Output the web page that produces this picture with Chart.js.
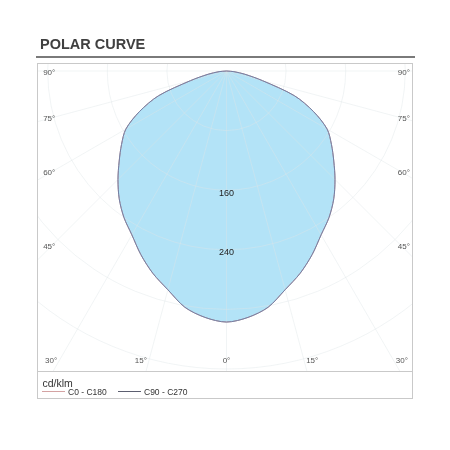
<!DOCTYPE html>
<html>
<head>
<meta charset="utf-8">
<title>Polar curve</title>
<script src="https://cdn.jsdelivr.net/npm/chart.js@4.4.1/dist/chart.umd.min.js"></script>
<style>
    body { margin: 0; background: #fff; font-family: "Liberation Sans", Arial, sans-serif; }
    #wrap { position: relative; width: 450px; height: 450px; }
    #polarChart { position: absolute; left: 0; top: 0; }
    .title { position: absolute; left: 40px; top: 37px; font-size: 14.5px; line-height: 15px; font-weight: bold; color: #404040; }
    .rule { position: absolute; left: 36px; top: 56px; width: 379px; height: 2px; background: #7a7a7a; }
    .unit { position: absolute; left: 42.5px; top: 376.5px; font-size: 10.5px; line-height: 12px; color: #333; }
    .leg { position: absolute; top: 387px; font-size: 8.5px; line-height: 10px; color: #333; white-space: nowrap; }
    .leg i { display: inline-block; width: 23px; height: 1px; vertical-align: 3px; margin-right: 3px; }
</style>
</head>
<body>
<div id="wrap">
    <canvas id="polarChart" width="450" height="450"></canvas>
    <div class="title">POLAR CURVE</div>
    <div class="rule"></div>
    <div class="unit">cd/klm</div>
    <div class="leg" style="left:42px"><i style="background:#d4a3a3"></i>C0 - C180</div>
    <div class="leg" style="left:118px"><i style="background:#5c5f70"></i>C90 - C270</div>
</div>
<script>
// Photometric data (cd/klm) per gamma angle, symmetric on both sides
const gammaDeg = [0, 5, 10, 15, 20, 25, 30, 35, 40, 45, 50, 55, 60, 65, 70, 75, 80, 85, 90];
const c0c180 = [337, 332, 322, 304, 289, 272, 254, 240, 224, 206, 188, 172, 156, 129, 97, 50, 25, 10, 0];
const c90c270 = [337, 332, 322, 304, 289, 272, 254, 240, 224, 206, 188, 172, 156, 129, 97, 50, 25, 10, 0];

// Grid
const ringValues = [80, 160, 240, 320, 400];
const ringLabels = [160, 240];
const angleTicks = [0, 15, 30, 45, 60, 75, 90];

const rad = d => d * Math.PI / 180;

// gamma 0 points down, left half first then right half
function toPoints(vals) {
    const pts = [];
    for (let i = gammaDeg.length - 1; i >= 0; i--) {
        pts.push({ x: -vals[i] * Math.sin(rad(gammaDeg[i])), y: -vals[i] * Math.cos(rad(gammaDeg[i])) });
    }
    for (let i = 1; i < gammaDeg.length; i++) {
        pts.push({ x: vals[i] * Math.sin(rad(gammaDeg[i])), y: -vals[i] * Math.cos(rad(gammaDeg[i])) });
    }
    return pts;
}

const polarGrid = {
    id: 'polarGrid',
    afterDatasetDraw(chart, args) {
        if (args.index !== 2) return;
        const { ctx, chartArea: a, scales: { x, y } } = chart;
        const cx = x.getPixelForValue(0);
        const cy = y.getPixelForValue(0);
        const k = x.getPixelForValue(100) - cx;
        ctx.save();
        ctx.beginPath();
        ctx.rect(a.left, a.top, a.right - a.left, a.bottom - a.top);
        ctx.clip();
        ctx.strokeStyle = 'rgba(222, 228, 232, 0.42)';
        ctx.lineWidth = 1;
        ringValues.forEach(v => {
            ctx.beginPath();
            ctx.arc(cx, cy, v * k / 100, 0, Math.PI * 2);
            ctx.stroke();
        });
        angleTicks.forEach(g => {
            (g === 0 ? [1] : [-1, 1]).forEach(s => {
                ctx.beginPath();
                ctx.moveTo(cx, cy);
                ctx.lineTo(x.getPixelForValue(s * 700 * Math.sin(rad(g))), y.getPixelForValue(-700 * Math.cos(rad(g))));
                ctx.stroke();
            });
        });
        ctx.restore();
    },
    afterDraw(chart) {
        const { ctx, chartArea: a, scales: { x, y } } = chart;
        const cx = x.getPixelForValue(0);
        ctx.save();
        // frame + legend box
        ctx.strokeStyle = '#c9c9c9';
        ctx.lineWidth = 1;
        ctx.strokeRect(a.left - 0.5, a.top - 0.5, a.right - a.left + 1, a.bottom - a.top + 28);
        ctx.beginPath();
        ctx.moveTo(a.left - 0.5, a.bottom + 0.5);
        ctx.lineTo(a.right + 0.5, a.bottom + 0.5);
        ctx.stroke();

        // angle labels
        ctx.font = '8px "Liberation Sans", Arial, sans-serif';
        ctx.fillStyle = '#555';
        ctx.textBaseline = 'middle';
        const sideX = 238, sideHit = 233.6, bottomY = -389;
        angleTicks.forEach(g => {
            const txt = g + '°';
            if (g >= 45) {
                const py = y.getPixelForValue(g === 90 ? 0 : -sideHit / Math.tan(rad(g))) + 1.5;
                ctx.textAlign = 'center';
                ctx.fillText(txt, x.getPixelForValue(-sideX), py);
                ctx.fillText(txt, x.getPixelForValue(sideX), py);
            } else {
                const py = y.getPixelForValue(bottomY);
                const dx = -bottomY * Math.tan(rad(g));
                if (g === 0) {
                    ctx.textAlign = 'center';
                    ctx.fillText(txt, cx, py);
                } else {
                    ctx.textAlign = 'right';
                    ctx.fillText(txt, x.getPixelForValue(-dx) - 2, py);
                    ctx.textAlign = 'left';
                    ctx.fillText(txt, x.getPixelForValue(dx) + 2, py);
                }
            }
        });

        // ring labels
        ctx.font = '9px "Liberation Sans", Arial, sans-serif';
        ctx.fillStyle = '#222';
        ctx.textAlign = 'center';
        ringLabels.forEach(v => {
            ctx.fillText(String(v), cx, y.getPixelForValue(-v) + 3);
        });
        ctx.restore();
    }
};

new Chart(document.getElementById('polarChart').getContext('2d'), {
    type: 'scatter',
    data: {
        datasets: [{
            label: 'C90 - C270',
            data: toPoints(c90c270),
            showLine: true,
            borderColor: '#7280a6',
            borderWidth: 1,
            pointRadius: 0,
            tension: 0.3,
            fill: false,
            order: 0
        }, {
            label: 'C0 - C180',
            data: toPoints(c0c180),
            showLine: true,
            borderColor: '#c99a9a',
            borderWidth: 1,
            pointRadius: 0,
            tension: 0.3,
            fill: false,
            order: 1
        }, {
            label: 'area',
            data: toPoints(c0c180),
            showLine: true,
            borderWidth: 0,
            borderColor: 'rgba(0,0,0,0)',
            backgroundColor: '#b3e3f7',
            pointRadius: 0,
            tension: 0.3,
            fill: 'shape',
            order: 2
        }]
    },
    options: {
        responsive: false,
        animation: false,
        layout: { padding: { left: 38, top: 64, right: 38, bottom: 79 } },
        scales: {
            x: { type: 'linear', min: -253, max: 249, display: false },
            y: { type: 'linear', min: -402.7, max: 9.4, display: false }
        },
        plugins: {
            legend: { display: false },
            tooltip: { enabled: false }
        }
    },
    plugins: [polarGrid]
});
</script>
</body>
</html>
